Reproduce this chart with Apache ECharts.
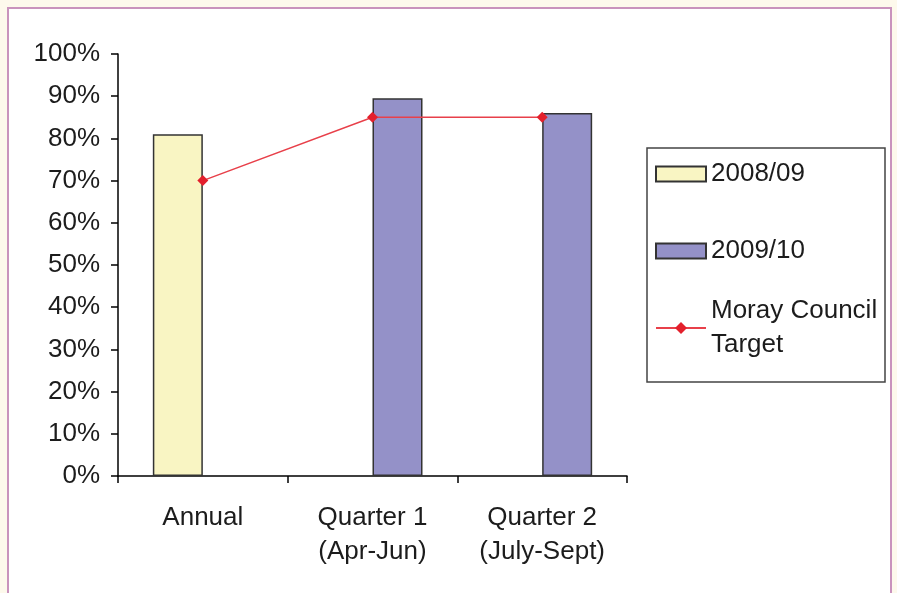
<!DOCTYPE html>
<html>
<head>
<meta charset="utf-8">
<title>Moray Council performance</title>
<script src="https://cdn.jsdelivr.net/npm/echarts@6/dist/echarts.min.js"></script>
<style>
  html, body { margin: 0; padding: 0; background: #fdf9ec; }
  #chart { width: 897px; height: 593px; }
</style>
</head>
<body>
<div id="chart"></div>
<script>
// Periods along the x axis
const categories = ['Annual', 'Quarter 1\n(Apr-Jun)', 'Quarter 2\n(July-Sept)'];
// Percentage achieved per period
const values2008 = [81, '-', '-'];
const values2009 = ['-', 89.5, 86];
// Council target per period
const targetValues = [70, 85, 85];
// Y axis ticks
const yTicks = { min: 0, max: 100, interval: 10 };

const FONT = '"Liberation Sans", Arial, sans-serif';
const TEXT = '#1c1c1c';
const SIZE = 26;

const chart = echarts.init(document.getElementById('chart'), null, { renderer: 'canvas' });

const legendBase = {
  orient: 'vertical',
  left: 655,
  padding: 0,
  itemWidth: 50,
  itemHeight: 15,
  selectedMode: false,
  textStyle: { fontFamily: FONT, fontSize: SIZE, color: TEXT, lineHeight: 34 }
};

chart.setOption({
  backgroundColor: '#fdf9ec',
  animation: false,
  graphic: [
    {
      type: 'rect', z: -10, silent: true,
      shape: { x: 8, y: 8, width: 883, height: 620 },
      style: { fill: '#ffffff', stroke: '#c993bd', lineWidth: 2 }
    },
    {
      type: 'rect', z: -5, silent: true,
      shape: { x: 647, y: 148, width: 238, height: 234 },
      style: { fill: '#ffffff', stroke: '#444', lineWidth: 1.5 }
    }
  ],
  grid: { left: 118, right: 270, top: 54, bottom: 117, containLabel: false },
  legend: [
    Object.assign({}, legendBase, { top: 157, data: [{ name: '2008/09', icon: 'rect' }] }),
    Object.assign({}, legendBase, { top: 234, data: [{ name: '2009/10', icon: 'rect' }] }),
    Object.assign({}, legendBase, {
      top: 277,
      data: ['Moray Council Target'],
      formatter: () => 'Moray Council\nTarget',
      textStyle: Object.assign({}, legendBase.textStyle, { padding: [34, 0, 0, 0] })
    })
  ],
  xAxis: {
    type: 'category',
    data: categories,
    boundaryGap: true,
    axisLine: { lineStyle: { color: '#000', width: 1.5 } },
    axisTick: { show: true, inside: false, length: 7, interval: 0, lineStyle: { color: '#000', width: 1.5 } },
    axisLabel: { interval: 0, margin: 25, fontFamily: FONT, fontSize: SIZE, color: TEXT, lineHeight: 34 },
    splitLine: { show: false }
  },
  yAxis: {
    type: 'value',
    min: yTicks.min, max: yTicks.max, interval: yTicks.interval,
    axisLine: { show: true, lineStyle: { color: '#000', width: 1.5 } },
    axisTick: { show: true, inside: false, length: 7, lineStyle: { color: '#000', width: 1.5 } },
    axisLabel: { formatter: '{value}%', margin: 18, fontFamily: FONT, fontSize: SIZE, color: TEXT },
    splitLine: { show: false }
  },
  series: [
    {
      name: '2008/09', type: 'bar', data: values2008,
      barWidth: 50, barGap: '0%',
      itemStyle: { color: '#f9f5c3', borderColor: '#333', borderWidth: 1.5 }
    },
    {
      name: '2009/10', type: 'bar', data: values2009,
      barWidth: 50, barGap: '0%',
      itemStyle: { color: '#9491c8', borderColor: '#333', borderWidth: 1.5 }
    },
    {
      name: 'Moray Council Target', type: 'line', data: targetValues,
      symbol: 'diamond', symbolSize: 11,
      itemStyle: { color: '#e3202c' },
      lineStyle: { color: '#e8404a', width: 1.5 },
      z: 5
    }
  ]
});
</script>
</body>
</html>
